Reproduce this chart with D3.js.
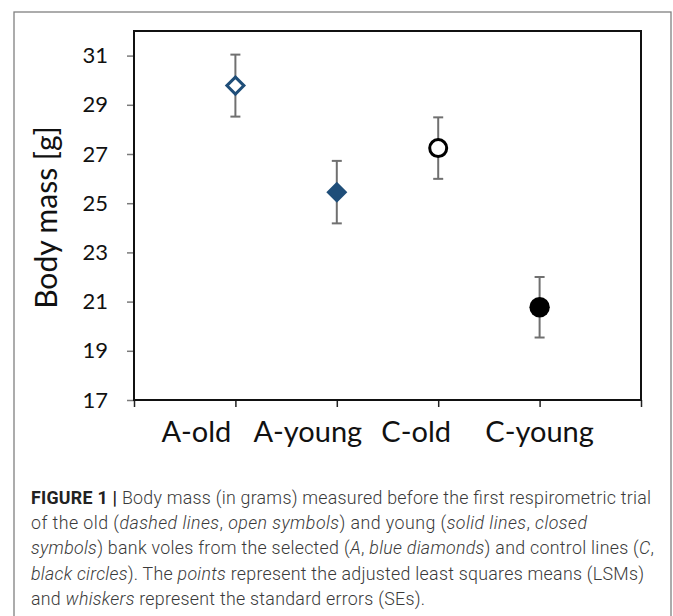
<!DOCTYPE html>
<html><head><meta charset="utf-8">
<script src="https://cdn.jsdelivr.net/npm/d3@7"></script>
<style>
html,body{margin:0;padding:0;background:#fff;}
svg{display:block;}
</style></head>
<body>
<svg id="c" width="673" height="616"></svg>
<script>
// ---- data ----
const categories = ["A-old", "A-young", "C-old", "C-young"];
const means = [29.78, 25.45, 27.24, 20.77];
const stdErrors = [1.26, 1.27, 1.25, 1.23];
const yTicks = [17, 19, 21, 23, 25, 27, 29, 31];
const yTitle = "Body mass [g]";
const captionLines = [
  [["FIGURE 1 |", "b"], [" Body mass (in grams) measured before the first respirometric trial", "n"]],
  [["of the old (", "n"], ["dashed lines", "i"], [", ", "n"], ["open symbols", "i"], [") and young (", "n"], ["solid lines", "i"], [", ", "n"], ["closed", "i"]],
  [["symbols", "i"], [") bank voles from the selected (", "n"], ["A", "i"], [", ", "n"], ["blue diamonds", "i"], [") and control lines (", "n"], ["C", "i"], [",", "n"]],
  [["black circles", "i"], ["). The ", "n"], ["points", "i"], [" represent the adjusted least squares means (LSMs)", "n"]],
  [["and ", "n"], ["whiskers", "i"], [" represent the standard errors (SEs).", "n"]]
];

// ---- layout ----
const svg = d3.select("#c");
const L = 134, R = 641, T = 31, B = 400;
const chartFont = "Lato, 'Open Sans', sans-serif";
const blue = "#1f4e79";

svg.append("rect").attr("x", 14).attr("y", 12).attr("width", 657).attr("height", 640)
  .attr("fill", "none").attr("stroke", "#808080").attr("stroke-width", 1.3);

const x = d3.scaleLinear().domain([0, categories.length + 1]).range([L, R]);
const y = d3.scaleLinear().domain([17, 32]).range([B, T]);

// y axis
const yAxis = svg.append("g").attr("transform", `translate(${L},0)`)
  .call(d3.axisLeft(y).tickValues(yTicks).tickSize(7).tickPadding(19));
yAxis.select(".domain").remove();
yAxis.selectAll("line").attr("stroke", "#7a7a7a").attr("stroke-width", 1.5);
yAxis.selectAll("text").attr("font-family", chartFont).attr("font-size", 22).attr("fill", "#111");

// x axis ticks
const xAxis = svg.append("g").attr("transform", `translate(0,${B})`)
  .call(d3.axisBottom(x).tickValues(d3.range(0, categories.length + 2)).tickSize(7).tickFormat(""));
xAxis.select(".domain").remove();
xAxis.selectAll("line").attr("stroke", "#222").attr("stroke-width", 1.5);

// x labels (hand-positioned in the original, shifted left of their ticks)
const labelShift = [-39, -29, -22, 0];
svg.append("g").selectAll("text").data(categories).join("text")
  .attr("x", (d, i) => x(i + 1) + labelShift[i])
  .attr("y", 442)
  .attr("text-anchor", "middle")
  .attr("font-family", chartFont).attr("font-size", 29).attr("fill", "#111")
  .text(d => d);

// plot frame
svg.append("rect").attr("x", L).attr("y", T).attr("width", R - L).attr("height", B - T)
  .attr("fill", "none").attr("stroke", "#111").attr("stroke-width", 2);

// y title
svg.append("text")
  .attr("transform", `translate(57,${(T + B) / 2 + 2}) rotate(-90)`)
  .attr("text-anchor", "middle")
  .attr("font-family", chartFont).attr("font-size", 30).attr("fill", "#111")
  .text(yTitle);

// error bars
const pts = categories.map((c, i) => ({c, i, m: means[i], se: stdErrors[i]}));
const eb = svg.append("g").attr("stroke", "#707070").attr("stroke-width", 2).attr("fill", "none");
pts.forEach(p => {
  const cx = x(p.i + 1);
  eb.append("line").attr("x1", cx).attr("x2", cx).attr("y1", y(p.m + p.se)).attr("y2", y(p.m - p.se));
  [p.m + p.se, p.m - p.se].forEach(v => {
    eb.append("line").attr("x1", cx - 5).attr("x2", cx + 5).attr("y1", y(v)).attr("y2", y(v));
  });
});

// markers
const diamond = (cx, cy, r) => `M${cx},${cy - r}L${cx + r},${cy}L${cx},${cy + r}L${cx - r},${cy}Z`;
pts.forEach(p => {
  const cx = x(p.i + 1), cy = y(p.m);
  const isA = p.c.startsWith("A");
  const isOld = p.c.endsWith("old");
  const col = isA ? blue : "#000";
  if (isA) {
    svg.append("path").attr("d", diamond(cx, cy, isOld ? 8.5 : 10.5))
      .attr("fill", isOld ? "#fff" : col).attr("stroke", col).attr("stroke-width", isOld ? 3 : 0);
  } else {
    svg.append("circle").attr("cx", cx).attr("cy", cy).attr("r", isOld ? 8.5 : 10.2)
      .attr("fill", isOld ? "#fff" : col).attr("stroke", col).attr("stroke-width", isOld ? 3 : 0);
  }
});

// caption
const lineWidths = [620, 556, 623, 613, 394];
const cap = svg.append("g").attr("font-family", "Roboto, 'Liberation Sans', sans-serif")
  .attr("font-size", 17.8).attr("font-weight", 300).attr("fill", "#3a3a3a");
captionLines.forEach((segs, li) => {
  const t = cap.append("text").attr("x", 31).attr("y", 504 + li * 25.2)
    .attr("textLength", lineWidths[li]).attr("lengthAdjust", "spacing");
  segs.forEach(([txt, st]) => {
    const ts = t.append("tspan").text(txt);
    if (st === "b") ts.attr("font-weight", "bold").attr("fill", "#222");
    if (st === "i") ts.attr("font-style", "italic");
  });
});
</script>
</body></html>
